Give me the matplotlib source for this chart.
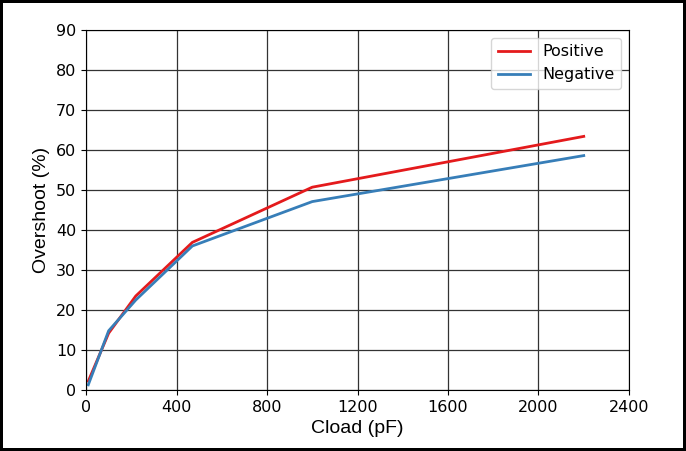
import matplotlib.pyplot as plt

cload = [10, 100, 220, 470, 1000, 2200]
positive = [2.2, 14.2, 23.5, 36.9, 50.7, 63.4]
negative = [1.3, 14.8, 22.5, 36.0, 47.1, 58.6]

fig = plt.figure(figsize=(6.86, 4.51), dpi=100, edgecolor='black', linewidth=4)
ax = fig.add_axes([0.1254, 0.1353, 0.7915, 0.7982])

ax.plot(cload, positive, color='#e41a1c', linewidth=2, label='Positive')
ax.plot(cload, negative, color='#377eb8', linewidth=2, label='Negative')

ax.set_xlim(0, 2400)
ax.set_ylim(0, 90)
ax.set_xticks(range(0, 2401, 400))
ax.set_yticks(range(0, 91, 10))
ax.tick_params(labelsize=11.5)
ax.grid(True, color='#333333', linewidth=0.9)
ax.set_xlabel('Cload (pF)', fontsize=14, family='Liberation Sans')
ax.set_ylabel('Overshoot (%)', fontsize=14, family='Liberation Sans')
ax.legend(loc='upper right', fontsize=11.5)

fig.savefig('out.png', dpi=100, edgecolor=fig.get_edgecolor())
